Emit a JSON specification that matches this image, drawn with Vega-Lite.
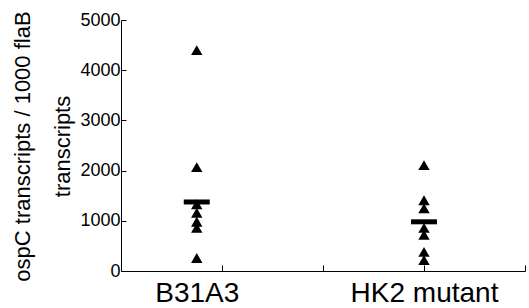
{
  "$schema": "https://vega.github.io/schema/vega-lite/v6.json",
  "width": 404,
  "height": 251,
  "autosize": "none",
  "padding": {"left": 121, "top": 20, "right": 4, "bottom": 37},
  "background": "white",
  "config": {
    "view": {"stroke": null},
    "font": "Liberation Sans",
    "axis": {
      "grid": false,
      "domainColor": "#000",
      "tickColor": "#000",
      "labelColor": "#000",
      "titleColor": "#000",
      "labelFont": "Liberation Sans",
      "titleFont": "Liberation Sans"
    }
  },
  "datasets": {
    "points": [
      {"strain": "B31A3", "pos": 0.75, "transcripts": 4400},
      {"strain": "B31A3", "pos": 0.75, "transcripts": 2070},
      {"strain": "B31A3", "pos": 0.75, "transcripts": 1330},
      {"strain": "B31A3", "pos": 0.75, "transcripts": 1160},
      {"strain": "B31A3", "pos": 0.75, "transcripts": 980},
      {"strain": "B31A3", "pos": 0.75, "transcripts": 860},
      {"strain": "B31A3", "pos": 0.75, "transcripts": 260},
      {"strain": "HK2 mutant", "pos": 3, "transcripts": 2110},
      {"strain": "HK2 mutant", "pos": 3, "transcripts": 1410},
      {"strain": "HK2 mutant", "pos": 3, "transcripts": 1250},
      {"strain": "HK2 mutant", "pos": 3, "transcripts": 860},
      {"strain": "HK2 mutant", "pos": 3, "transcripts": 720},
      {"strain": "HK2 mutant", "pos": 3, "transcripts": 380},
      {"strain": "HK2 mutant", "pos": 3, "transcripts": 220}
    ],
    "means": [
      {"strain": "B31A3", "pos": 0.75, "transcripts": 1375},
      {"strain": "HK2 mutant", "pos": 3, "transcripts": 980}
    ]
  },
  "layer": [
    {
      "data": {"name": "points"},
      "mark": {"type": "point", "shape": "triangle-up", "filled": true, "color": "black", "size": 130, "opacity": 1},
      "encoding": {
        "x": {
          "field": "pos",
          "type": "quantitative",
          "scale": {"domain": [0, 4], "nice": false},
          "axis": {
            "values": [0.75, 1, 2, 3, 4],
            "labelExpr": "datum.value == 0.75 ? 'B31A3' : (datum.value == 3 ? 'HK2 mutant' : '')",
            "tickOpacity": {"condition": {"test": "datum.value == 0.75", "value": 0}, "value": 1},
            "tickSize": -6,
            "labelFontSize": 28,
            "labelPadding": 14,
            "labelFlush": false,
            "labelOverlap": false,
            "title": null
          }
        },
        "y": {
          "field": "transcripts",
          "type": "quantitative",
          "scale": {"domain": [0, 5000], "nice": false},
          "axis": {
            "values": [0, 1000, 2000, 3000, 4000, 5000],
            "format": "d",
            "tickSize": -5,
            "labelFontSize": 18,
            "labelPadding": 6,
            "title": ["ospC transcripts / 1000 flaB", "transcripts"],
            "titleFontSize": 22,
            "titleFontWeight": "normal",
            "titleLineHeight": 40,
            "titleAngle": -90,
            "titleAlign": "center",
            "titleBaseline": "top",
            "titleX": -109,
            "titleY": 126
          }
        }
      }
    },
    {
      "data": {"name": "means"},
      "mark": {"type": "tick", "orient": "horizontal", "color": "black", "opacity": 1, "size": 26, "thickness": 5},
      "encoding": {
        "x": {"field": "pos", "type": "quantitative"},
        "y": {"field": "transcripts", "type": "quantitative"}
      }
    }
  ]
}
